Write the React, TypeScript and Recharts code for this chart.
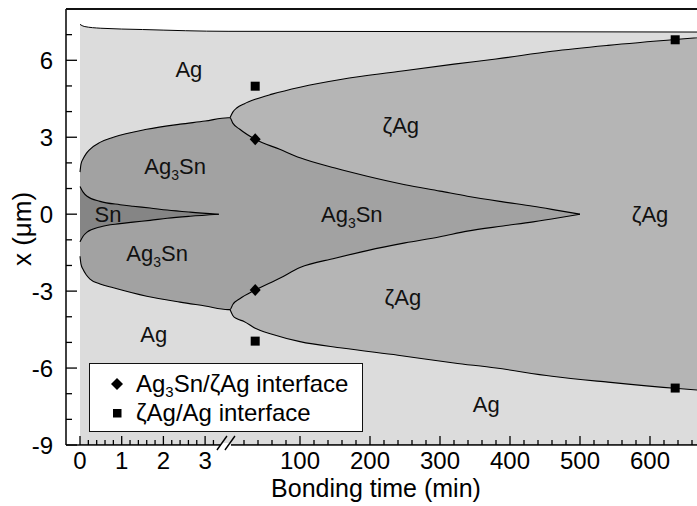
import React from "react";
import {
  Area,
  ComposedChart,
  ReferenceDot,
  ReferenceLine,
  Scatter,
  XAxis,
  YAxis,
} from "recharts";

const FONT = '"Liberation Sans", Arial, Helvetica, sans-serif';

// The time axis is broken: 0–3.5 min on a stretched scale, then the long run compressed.
const LEFT_UNITS_PER_MIN = 41.7;
const RIGHT_ORIGIN = 150;
const RIGHT_UNITS_PER_MIN = 0.7;
const BREAK_AT_MIN = 3.5;
const leftX = (t: number) => t * LEFT_UNITS_PER_MIN;
const rightX = (t: number) => RIGHT_ORIGIN + t * RIGHT_UNITS_PER_MIN;

const Y_MIN = -9;
const Y_MAX = 8;

// ---- phase boundaries (x in µm), left segment times in min
const agTopTimeL = [0, 0.1, 0.5, 1.5, 3.55];
const agTopL = [7.4, 7.32, 7.25, 7.2, 7.13];
const agTopTimeR = [0, 300, 700];
const agTopR = [7.13, 7.12, 7.1];

const snTime = [0, 0.07, 0.17, 0.48, 0.96, 1.27, 1.68, 2.09, 2.64, 3.33];
const snTop = [1.08, 0.87, 0.7, 0.5, 0.37, 0.31, 0.24, 0.16, 0.08, 0];
const snBottom = [-1.08, -0.87, -0.7, -0.5, -0.37, -0.31, -0.24, -0.16, -0.08, 0];

// Ag3Sn / Ag interface before the break
const ag3snTimeL = [0, 0.024, 0.072, 0.144, 0.24, 0.48, 0.8, 1.6, 2.4, 3.0, 3.55];
const ag3snTopL = [1.64, 1.95, 2.15, 2.35, 2.53, 2.8, 3.0, 3.31, 3.51, 3.63, 3.76];
const ag3snBottomL = [-1.64, -1.95, -2.15, -2.35, -2.53, -2.72, -2.87, -3.2, -3.43, -3.58, -3.72];

// Ag3Sn / ζAg interface after the break
const ag3snTimeR = [0, 4, 14, 36, 71, 100, 150, 196, 250, 300, 339, 390, 433, 470, 500];
const ag3snTopR = [3.76, 3.55, 3.31, 2.92, 2.53, 2.2, 1.8, 1.48, 1.15, 0.9, 0.7, 0.48, 0.31, 0.14, 0];
const ag3snBottomR = [-3.72, -3.52, -3.3, -2.96, -2.5, -2.08, -1.72, -1.42, -1.12, -0.88, -0.66, -0.46, -0.3, -0.14, 0];

// ζAg / Ag interface
const zetaTime = [0, 4, 10, 20, 36, 60, 100, 160, 240, 320, 380, 460, 540, 640, 700];
const zetaTop = [3.76, 3.98, 4.15, 4.3, 4.48, 4.68, 4.95, 5.26, 5.56, 5.85, 6.05, 6.35, 6.58, 6.82, 6.95];
const zetaBottom = [-3.72, -3.95, -4.08, -4.18, -4.45, -4.68, -4.97, -5.22, -5.5, -5.8, -6.0, -6.32, -6.55, -6.8, -6.92];

// measured interface positions (right segment, min)
const diamondTime = [36, 36];
const diamondX = [2.92, -2.96];
const squareTime = [36, 36, 636, 636];
const squareX = [4.99, -4.95, 6.8, -6.78];

const legendItems = [
  { name: "Ag3Sn/ζAg interface", marker: "diamond" },
  { name: "ζAg/Ag interface", marker: "square" },
];

const phaseLabels = [
  { seg: "L", t: 2.61, y: 5.65, text: "Ag" },
  { seg: "L", t: 2.28, y: 1.89, text: "Ag3Sn" },
  { seg: "L", t: 0.67, y: 0, text: "Sn" },
  { seg: "L", t: 1.85, y: -1.5, text: "Ag3Sn" },
  { seg: "L", t: 1.77, y: -4.68, text: "Ag" },
  { seg: "R", t: 244, y: 3.47, text: "ζAg" },
  { seg: "R", t: 174, y: 0, text: "Ag3Sn" },
  { seg: "R", t: 600, y: 0, text: "ζAg" },
  { seg: "R", t: 247, y: -3.24, text: "ζAg" },
  { seg: "R", t: 366, y: -7.4, text: "Ag" },
];

const leftMajorTicks = [0, 1, 2, 3];
const rightMajorTicks = [100, 200, 300, 400, 500, 600];
const yMajorTicks = [-9, -6, -3, 0, 3, 6];

const COLORS = {
  ag: "#dcdcdc",
  zeta: "#b5b5b5",
  ag3sn: "#a2a2a2",
  sn: "#858585",
};

type Seg = {
  toX: (t: number) => number;
  times: number[];
  top: number[];
  bottom: number[] | number;
};

function band(...segs: Seg[]) {
  return segs.flatMap((s) =>
    s.times.map((t, i) => ({
      u: s.toX(t),
      v: [Array.isArray(s.bottom) ? s.bottom[i] : s.bottom, s.top[i]],
    }))
  );
}

const agRows = band(
  { toX: leftX, times: agTopTimeL, top: agTopL, bottom: Y_MIN },
  { toX: rightX, times: agTopTimeR, top: agTopR, bottom: Y_MIN }
);
const zetaRows = band({ toX: rightX, times: zetaTime, top: zetaTop, bottom: zetaBottom });
const ag3snRows = band(
  { toX: leftX, times: ag3snTimeL, top: ag3snTopL, bottom: ag3snBottomL },
  { toX: rightX, times: ag3snTimeR, top: ag3snTopR, bottom: ag3snBottomR }
);
const snRows = band({ toX: leftX, times: snTime, top: snTop, bottom: snBottom });

const diamondRows = diamondTime.map((t, i) => ({ u: rightX(t), y: diamondX[i] }));
const squareRows = squareTime.map((t, i) => ({ u: rightX(t), y: squareX[i] }));

// ticks
const key = (v: number) => Math.round(v * 1000) / 1000;
const xTickLabels = new Map<number, string>();
leftMajorTicks.forEach((t) => xTickLabels.set(key(leftX(t)), String(t)));
rightMajorTicks.forEach((t) => xTickLabels.set(key(rightX(t)), String(t)));
const xTicks: number[] = [];
for (let i = 1; i <= 16; i++) xTicks.push(key(leftX(i * 0.2)));
for (let i = 1; i <= 33; i++) xTicks.push(key(rightX(i * 20)));
leftMajorTicks.forEach((t) => xTicks.push(key(leftX(t))));
const xTickList = Array.from(new Set(xTicks)).sort((a, b) => a - b);

const yTicks: number[] = [];
for (let v = Y_MIN; v < Y_MAX; v++) yTicks.push(v);

function chemParts(name: string) {
  return name.split(/(3)/);
}

function TimeTick(props: any) {
  const { x, y, payload } = props;
  const label = xTickLabels.get(key(payload.value));
  const len = label !== undefined ? 9 : 5;
  return (
    <g>
      <line x1={x} x2={x} y1={y} y2={y - len} stroke="#000" strokeWidth={1.3} />
      {label !== undefined && (
        <text x={x} y={y + 24} textAnchor="middle" fontSize={24} fontFamily={FONT} fill="#000">
          {label}
        </text>
      )}
    </g>
  );
}

function PosTick(props: any) {
  const { x, y, payload } = props;
  const major = yMajorTicks.includes(payload.value);
  return (
    <g>
      <line x1={x} x2={x + (major ? 11 : 6)} y1={y} y2={y} stroke="#000" strokeWidth={1.3} />
      {major && (
        <text x={x - 13} y={y + 8.6} textAnchor="end" fontSize={24} fontFamily={FONT} fill="#000">
          {payload.value}
        </text>
      )}
    </g>
  );
}

function PhaseText({ cx, cy, text }: { cx: number; cy: number; text: string }) {
  const parts = chemParts(text);
  return (
    <text x={cx} y={cy + 7.9} textAnchor="middle" fontSize={22} fontFamily={FONT} fill="#111">
      {parts.map((p, i) =>
        p === "3" ? (
          <tspan key={i} fontSize={14} dy={6}>
            3
          </tspan>
        ) : (
          <tspan key={i} dy={i > 0 ? -6 : 0}>
            {p}
          </tspan>
        )
      )}
    </text>
  );
}

const Diamond = (p: any) => (
  <path
    d={`M${p.cx},${p.cy - 6} L${p.cx + 5.5},${p.cy} L${p.cx},${p.cy + 6} L${p.cx - 5.5},${p.cy} Z`}
    fill="#000"
  />
);
const Square = (p: any) => (
  <rect x={p.cx - 4.5} y={p.cy - 4.5} width={9} height={9} fill="#000" />
);

const BreakMark = (p: any) => (
  <g>
    <rect x={p.cx - 5} y={p.cy - 2} width={10} height={4} fill="#fff" />
    <line x1={p.cx - 9} y1={p.cy + 5} x2={p.cx + 1} y2={p.cy - 9} stroke="#000" strokeWidth={1.4} />
    <line x1={p.cx - 1} y1={p.cy + 5} x2={p.cx + 9} y2={p.cy - 9} stroke="#000" strokeWidth={1.4} />
  </g>
);

function LegendMarker({ kind }: { kind: string }) {
  return (
    <svg width={16} height={16} style={{ display: "block" }}>
      {kind === "diamond" ? (
        <path d="M8,2 L14,8 L8,14 L2,8 Z" fill="#000" />
      ) : (
        <rect x={4} y={4} width={8.5} height={8.5} fill="#000" />
      )}
    </svg>
  );
}

export default function App() {
  return (
    <div
      style={{
        position: "fixed",
        left: 0,
        top: 0,
        width: 697,
        height: 506,
        overflow: "hidden",
        background: "#fff",
      }}
    >
      <ComposedChart width={730} height={506} margin={{ top: 9, right: 10, bottom: 0, left: 0 }}>
        <Area
          data={agRows}
          dataKey="v"
          type="monotone"
          fill={COLORS.ag}
          fillOpacity={1}
          stroke="#000"
          strokeWidth={1}
          dot={false}
          activeDot={false}
          isAnimationActive={false}
        />
        <Area
          data={zetaRows}
          dataKey="v"
          type="monotone"
          fill={COLORS.zeta}
          fillOpacity={1}
          stroke="#000"
          strokeWidth={1.1}
          dot={false}
          activeDot={false}
          isAnimationActive={false}
        />
        <Area
          data={ag3snRows}
          dataKey="v"
          type="monotone"
          fill={COLORS.ag3sn}
          fillOpacity={1}
          stroke="#000"
          strokeWidth={1.1}
          dot={false}
          activeDot={false}
          isAnimationActive={false}
        />
        <Area
          data={snRows}
          dataKey="v"
          type="monotone"
          fill={COLORS.sn}
          fillOpacity={1}
          stroke="#000"
          strokeWidth={1.1}
          dot={false}
          activeDot={false}
          isAnimationActive={false}
        />
        <Scatter
          name={legendItems[0].name}
          data={diamondRows}
          dataKey="y"
          shape={Diamond}
          isAnimationActive={false}
        />
        <Scatter
          name={legendItems[1].name}
          data={squareRows}
          dataKey="y"
          shape={Square}
          isAnimationActive={false}
        />
        {phaseLabels.map((l, i) => (
          <ReferenceDot
            key={i}
            x={l.seg === "L" ? leftX(l.t) : rightX(l.t)}
            y={l.y}
            r={0}
            ifOverflow="visible"
            shape={(p: any) => <PhaseText cx={p.cx} cy={p.cy} text={l.text} />}
          />
        ))}
        <ReferenceLine y={Y_MAX} stroke="#111" strokeWidth={2} ifOverflow="visible" />
        <XAxis
          dataKey="u"
          type="number"
          domain={[-14, 640]}
          allowDataOverflow
          ticks={xTickList}
          interval={0}
          tick={TimeTick}
          tickLine={false}
          tickSize={0}
          tickMargin={0}
          height={61}
          axisLine={{ stroke: "#111", strokeWidth: 1.6 }}
          label={{
            content: (p: any) => (
              <text
                x={p.viewBox.x + 310}
                y={p.viewBox.y + 52}
                textAnchor="middle"
                fontSize={25}
                fontFamily={FONT}
                fill="#000"
              >
                Bonding time (min)
              </text>
            ),
          }}
        />
        <YAxis
          type="number"
          domain={[Y_MIN, Y_MAX]}
          allowDataOverflow
          ticks={yTicks}
          interval={0}
          tick={PosTick}
          tickLine={false}
          tickSize={0}
          tickMargin={0}
          width={66}
          axisLine={{ stroke: "#111", strokeWidth: 1.6 }}
          label={{
            content: (p: any) => {
              const cx = p.viewBox.x + 22;
              const cy = p.viewBox.y + p.viewBox.height / 2 + 2;
              return (
                <text
                  x={cx}
                  y={cy}
                  transform={`rotate(-90 ${cx} ${cy})`}
                  textAnchor="middle"
                  dominantBaseline="central"
                  fontSize={26}
                  fontFamily={FONT}
                  fill="#000"
                >
                  x (μm)
                </text>
              );
            },
          }}
        />
        <ReferenceDot x={leftX(BREAK_AT_MIN)} y={Y_MIN} r={0} ifOverflow="visible" shape={BreakMark} />
      </ComposedChart>
      <div
        style={{
          position: "absolute",
          left: 89,
          top: 363,
          width: 274,
          height: 69,
          boxSizing: "border-box",
          border: "1.5px solid #111",
          background: "#fff",
          paddingTop: 5,
          fontFamily: FONT,
          fontSize: 24,
          color: "#000",
        }}
      >
        {legendItems.map((item) => (
          <div
            key={item.name}
            style={{ display: "flex", alignItems: "center", height: 29, lineHeight: "29px" }}
          >
            <div style={{ width: 16, marginLeft: 19 }}>
              <LegendMarker kind={item.marker} />
            </div>
            <span style={{ marginLeft: 11, whiteSpace: "nowrap" }}>
              {chemParts(item.name).map((p, i) =>
                p === "3" ? (
                  <sub key={i} style={{ fontSize: 15, verticalAlign: "-5px", lineHeight: 0 }}>
                    3
                  </sub>
                ) : (
                  <React.Fragment key={i}>{p}</React.Fragment>
                )
              )}
            </span>
          </div>
        ))}
      </div>
    </div>
  );
}
